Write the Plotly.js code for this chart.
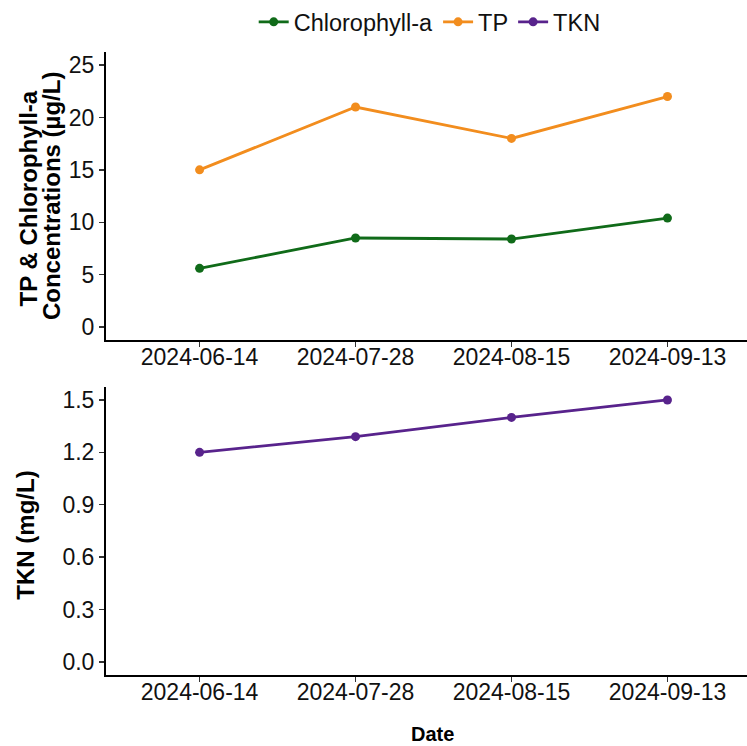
<!DOCTYPE html>
<html>
<head>
<meta charset="utf-8">
<script src="https://cdn.plot.ly/plotly-3.0.1.min.js"></script>
<style>html,body{margin:0;padding:0;background:#fff;}#chart{width:747px;height:746px;}</style>
</head>
<body>
<div id="chart"></div>
<script>
const dates = ['2024-06-14', '2024-07-28', '2024-08-15', '2024-09-13'];
const chla = [5.6, 8.5, 8.4, 10.4];
const tp = [15, 21, 18, 22];
const tkn = [1.2, 1.29, 1.4, 1.5];
const topTicks = [0, 5, 10, 15, 20, 25];
const bottomTicks = [0, 0.3, 0.6, 0.9, 1.2, 1.5];
const bottomTickText = ['0.0', '0.3', '0.6', '0.9', '1.2', '1.5'];

const cGreen = '#106b19';
const cOrange = '#f28d1e';
const cPurple = '#58238c';

const traces = [
  {x: dates, y: chla, name: 'Chlorophyll-a', type: 'scatter', mode: 'lines+markers',
   line: {color: cGreen, width: 2.8}, marker: {color: cGreen, size: 9}, xaxis: 'x', yaxis: 'y'},
  {x: dates, y: tp, name: 'TP', type: 'scatter', mode: 'lines+markers',
   line: {color: cOrange, width: 2.8}, marker: {color: cOrange, size: 9}, xaxis: 'x', yaxis: 'y'},
  {x: dates, y: tkn, name: 'TKN', type: 'scatter', mode: 'lines+markers',
   line: {color: cPurple, width: 2.8}, marker: {color: cPurple, size: 9}, xaxis: 'x2', yaxis: 'y2'}
];

const font = 'Liberation Sans, Arial, sans-serif';
const axBase = {
  showline: true, linecolor: '#000', linewidth: 2,
  ticks: 'outside', ticklen: 5, tickwidth: 1.5, tickcolor: '#333',
  showgrid: false, zeroline: false,
  tickfont: {family: font, size: 23, color: '#111'}
};

const layout = {
  width: 747, height: 746,
  margin: {l: 106, r: 0, t: 48, b: 71},
  paper_bgcolor: '#fff', plot_bgcolor: '#fff',
  font: {family: font},
  showlegend: true,
  legend: {orientation: 'h', x: 0.505, xanchor: 'center', y: 1.048, yanchor: 'middle',
           font: {family: font, size: 23.5, color: '#111'}, itemwidth: 30, traceorder: 'normal'},
  xaxis: Object.assign({}, axBase, {type: 'category', categoryorder: 'array', categoryarray: dates,
           range: [-0.6, 3.51], anchor: 'y', domain: [0, 1], ticklabelstandoff: -10}),
  xaxis2: Object.assign({}, axBase, {type: 'category', categoryorder: 'array', categoryarray: dates,
           range: [-0.6, 3.51], anchor: 'y2', domain: [0, 1], ticklabelstandoff: -10}),
  yaxis: Object.assign({}, axBase, {domain: [0.5375, 1], range: [-1.25, 26.25],
           tickvals: topTicks, anchor: 'x'}),
  yaxis2: Object.assign({}, axBase, {domain: [0, 0.4625], range: [-0.075, 1.575],
           tickvals: bottomTicks, ticktext: bottomTickText, anchor: 'x2'}),
  annotations: [
    {text: 'TP & Chlorophyll-a', xref: 'paper', yref: 'paper', x: -0.1217, y: 0.765,
     xanchor: 'center', yanchor: 'middle', textangle: -90, showarrow: false,
     font: {family: font, size: 24, color: '#000', weight: 'bold'}},
    {text: 'Concentrations (µg/L)', xref: 'paper', yref: 'paper', x: -0.084, y: 0.769,
     xanchor: 'center', yanchor: 'middle', textangle: -90, showarrow: false,
     font: {family: font, size: 24, color: '#000', weight: 'bold'}},
    {text: 'TKN (mg/L)', xref: 'paper', yref: 'paper', x: -0.126, y: 0.224,
     xanchor: 'center', yanchor: 'middle', textangle: -90, showarrow: false,
     font: {family: font, size: 24, color: '#000', weight: 'bold'}},
    {text: 'Date', xref: 'paper', yref: 'paper', x: 0.51, y: -0.0955,
     xanchor: 'center', yanchor: 'middle', showarrow: false, borderpad: 0,
     font: {family: font, size: 20, color: '#000', weight: 'bold'}}
  ]
};

Plotly.newPlot('chart', traces, layout, {displayModeBar: false, staticPlot: true});
</script>
</body>
</html>
